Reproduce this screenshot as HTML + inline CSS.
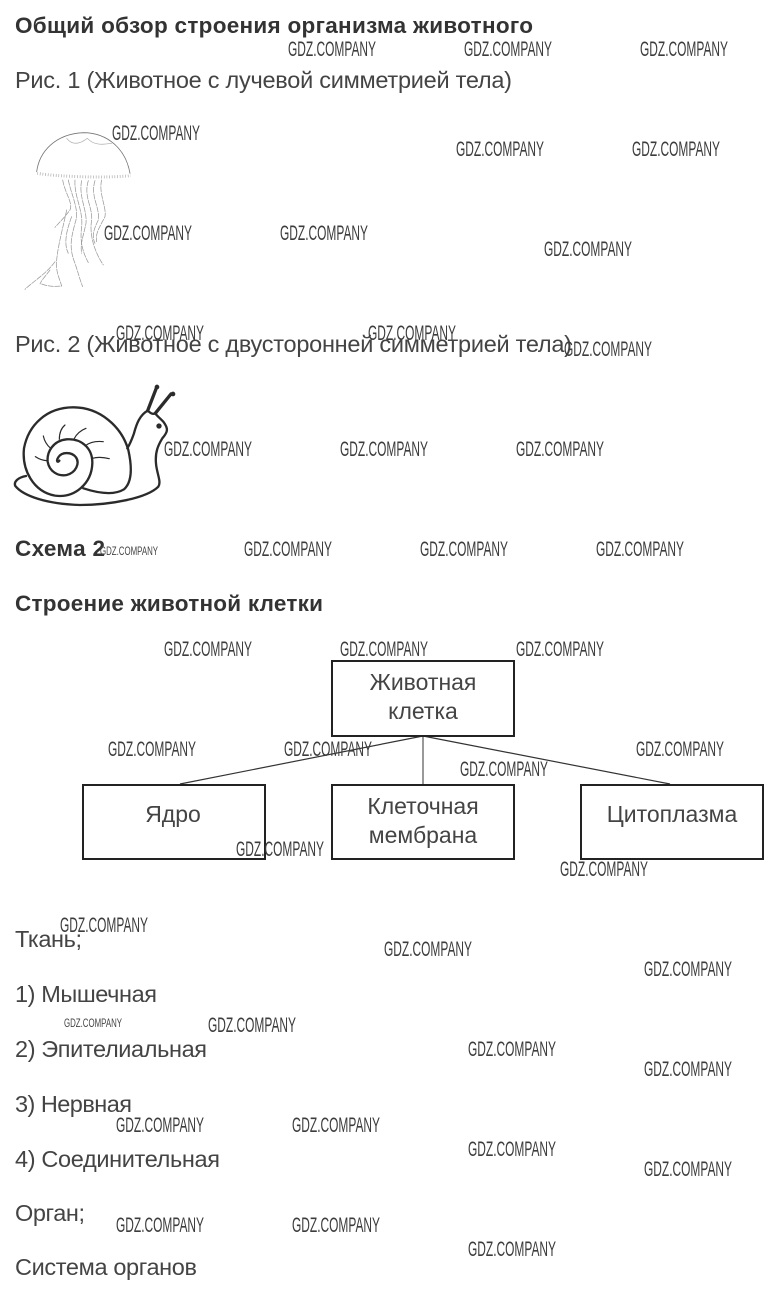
<!DOCTYPE html>
<html lang="ru">
<head>
<meta charset="utf-8">
<title>Общий обзор строения организма животного</title>
<style>
html,body{margin:0;padding:0;background:#fff;width:774px;height:1297px;overflow:hidden}
svg{display:block}
text{font-family:"Liberation Sans",sans-serif}
.t{font-size:23.5px;fill:#444}
.b{font-size:22.5px;font-weight:bold;fill:#333}
.c{font-size:23px;fill:#444;text-anchor:middle}
.w{font-size:21px;fill:#3c3c3c}
.s{font-size:12px;fill:#444}
.box{fill:#fff;stroke:#222;stroke-width:2}
</style>
</head>
<body>
<svg width="774" height="1297" viewBox="0 0 774 1297" xmlns="http://www.w3.org/2000/svg">
<rect width="774" height="1297" fill="#fff"/>

<text class="b" x="15" y="33" textLength="518">Общий обзор строения организма животного</text>
<text class="t" x="15" y="88" textLength="497">Рис. 1 (Животное с лучевой симметрией тела)</text>
<text class="t" x="15" y="352" textLength="557">Рис. 2 (Животное с двусторонней симметрией тела)</text>
<text class="b" x="15" y="556" textLength="90">Схема 2</text>
<text class="b" x="15" y="611" textLength="308">Строение животной клетки</text>

<!-- Jellyfish -->
<g transform="translate(0 110) scale(.3333)" fill="none" stroke-linecap="round">
<path d="M110 185C118 125 165 72 250 68C325 68 378 120 390 190" stroke="#777" stroke-width="2.5"/>
<path d="M200 85C215 105 235 105 262 85C280 105 305 105 335 100" stroke="#aaa" stroke-width="2"/>
<path d="M112 190C170 200 320 205 392 197" stroke="#aaa" stroke-width="9" stroke-linecap="butt" stroke-dasharray="2 6"/>
<g stroke="#999" stroke-width="2.2" stroke-dasharray="16 4">
<path d="M188 210C195 250 220 280 210 300C195 320 185 330 165 352"/>
<path d="M205 210C215 260 240 300 225 340C215 380 205 410 225 460C235 490 240 510 248 530"/>
<path d="M225 210C222 260 250 300 245 350C240 390 245 420 265 458"/>
<path d="M245 212C235 260 262 300 258 340C250 380 240 400 245 430"/>
<path d="M265 212C250 260 278 290 275 330C268 370 280 420 310 465"/>
<path d="M285 212C270 260 300 290 295 330C280 360 275 380 285 400"/>
<path d="M305 210C295 250 320 290 315 320C300 350 285 370 290 395"/>
<path d="M200 300C190 350 175 400 170 450C165 480 180 510 185 528"/>
<path d="M215 320C200 360 190 400 205 430"/>
<path d="M165 455C140 490 105 510 75 538M125 522C145 530 165 530 185 528M150 480C135 500 125 510 120 522"/>
</g>
</g>

<!-- Snail -->
<g transform="translate(0 370) scale(.3333)" fill="none" stroke="#2b2b2b" stroke-width="7" stroke-linecap="round" stroke-linejoin="round">
<path d="M250 355C290 368 340 378 372 358C398 335 395 285 385 240C365 170 300 112 220 112C140 112 85 165 72 235C65 300 100 365 165 377C225 385 275 340 277 280C278 235 245 205 200 208C160 212 140 245 143 275C148 305 175 320 200 315C228 308 240 280 228 262C215 245 185 245 175 262C168 272 172 280 178 272"/>
<path d="M78 318C55 322 40 335 46 348C70 378 140 402 240 405C330 405 440 385 475 350C485 335 470 310 468 280C465 245 475 225 487 205C505 185 505 175 490 155C475 140 468 135 466 130L513 72M466 130C455 135 448 125 443 122L470 52M443 122C420 135 410 160 402 190C395 210 388 225 382 235"/>
<path d="M178 208C178 190 183 175 195 165M222 207C228 195 240 182 258 175M255 228C270 216 290 213 310 215M277 265C295 260 312 262 328 266M152 235C140 225 133 212 130 198M142 272C130 272 118 268 106 260" stroke-width="3.5"/>
<path d="M466 130L513 72M443 122L470 52" stroke-width="10"/>
<circle cx="477" cy="168" r="8" fill="#2b2b2b" stroke="none"/>
<circle cx="471" cy="51" r="7" fill="#2b2b2b" stroke="none"/>
<circle cx="519" cy="72" r="7" fill="#2b2b2b" stroke="none"/>
</g>

<!-- Diagram -->
<g stroke="#333" fill="none">
<line x1="423" y1="736" x2="180" y2="784" stroke-width="1.2"/>
<line x1="423" y1="736" x2="423" y2="785" stroke-width="1"/>
<line x1="423" y1="736" x2="670" y2="784" stroke-width="1.2"/>
</g>
<rect class="box" x="332" y="661" width="182" height="75"/>
<rect class="box" x="83" y="785" width="182" height="74"/>
<rect class="box" x="332" y="785" width="182" height="74"/>
<rect class="box" x="581" y="785" width="182" height="74"/>
<text class="c" x="423" y="690">Животная</text>
<text class="c" x="423" y="719">клетка</text>
<text class="c" x="173" y="822">Ядро</text>
<text class="c" x="423" y="814">Клеточная</text>
<text class="c" x="423" y="843">мембрана</text>
<text class="c" x="672" y="822">Цитоплазма</text>

<!-- List -->
<text class="t" x="15" y="947" textLength="67">Ткань;</text>
<text class="t" x="15" y="1002" textLength="142">1) Мышечная</text>
<text class="t" x="15" y="1057" textLength="192">2) Эпителиальная</text>
<text class="t" x="15" y="1112" textLength="117">3) Нервная</text>
<text class="t" x="15" y="1167" textLength="205">4) Соединительная</text>
<text class="t" x="15" y="1221" textLength="70">Орган;</text>
<text class="t" x="15" y="1275" textLength="182">Система органов</text>

<!-- Watermarks -->
<g>
<text class="w" x="288" y="56" textLength="88" lengthAdjust="spacingAndGlyphs">GDZ.COMPANY</text>
<text class="w" x="464" y="56" textLength="88" lengthAdjust="spacingAndGlyphs">GDZ.COMPANY</text>
<text class="w" x="640" y="56" textLength="88" lengthAdjust="spacingAndGlyphs">GDZ.COMPANY</text>
<text class="w" x="112" y="140" textLength="88" lengthAdjust="spacingAndGlyphs">GDZ.COMPANY</text>
<text class="w" x="456" y="156" textLength="88" lengthAdjust="spacingAndGlyphs">GDZ.COMPANY</text>
<text class="w" x="632" y="156" textLength="88" lengthAdjust="spacingAndGlyphs">GDZ.COMPANY</text>
<text class="w" x="104" y="240" textLength="88" lengthAdjust="spacingAndGlyphs">GDZ.COMPANY</text>
<text class="w" x="280" y="240" textLength="88" lengthAdjust="spacingAndGlyphs">GDZ.COMPANY</text>
<text class="w" x="544" y="256" textLength="88" lengthAdjust="spacingAndGlyphs">GDZ.COMPANY</text>
<text class="w" x="116" y="340" textLength="88" lengthAdjust="spacingAndGlyphs">GDZ.COMPANY</text>
<text class="w" x="368" y="340" textLength="88" lengthAdjust="spacingAndGlyphs">GDZ.COMPANY</text>
<text class="w" x="564" y="356" textLength="88" lengthAdjust="spacingAndGlyphs">GDZ.COMPANY</text>
<text class="w" x="164" y="456" textLength="88" lengthAdjust="spacingAndGlyphs">GDZ.COMPANY</text>
<text class="w" x="340" y="456" textLength="88" lengthAdjust="spacingAndGlyphs">GDZ.COMPANY</text>
<text class="w" x="516" y="456" textLength="88" lengthAdjust="spacingAndGlyphs">GDZ.COMPANY</text>
<text class="s" x="100" y="555" textLength="58" lengthAdjust="spacingAndGlyphs">GDZ.COMPANY</text>
<text class="w" x="244" y="556" textLength="88" lengthAdjust="spacingAndGlyphs">GDZ.COMPANY</text>
<text class="w" x="420" y="556" textLength="88" lengthAdjust="spacingAndGlyphs">GDZ.COMPANY</text>
<text class="w" x="596" y="556" textLength="88" lengthAdjust="spacingAndGlyphs">GDZ.COMPANY</text>
<text class="w" x="164" y="656" textLength="88" lengthAdjust="spacingAndGlyphs">GDZ.COMPANY</text>
<text class="w" x="340" y="656" textLength="88" lengthAdjust="spacingAndGlyphs">GDZ.COMPANY</text>
<text class="w" x="516" y="656" textLength="88" lengthAdjust="spacingAndGlyphs">GDZ.COMPANY</text>
<text class="w" x="108" y="756" textLength="88" lengthAdjust="spacingAndGlyphs">GDZ.COMPANY</text>
<text class="w" x="284" y="756" textLength="88" lengthAdjust="spacingAndGlyphs">GDZ.COMPANY</text>
<text class="w" x="636" y="756" textLength="88" lengthAdjust="spacingAndGlyphs">GDZ.COMPANY</text>
<text class="w" x="460" y="776" textLength="88" lengthAdjust="spacingAndGlyphs">GDZ.COMPANY</text>
<text class="w" x="236" y="856" textLength="88" lengthAdjust="spacingAndGlyphs">GDZ.COMPANY</text>
<text class="w" x="560" y="876" textLength="88" lengthAdjust="spacingAndGlyphs">GDZ.COMPANY</text>
<text class="w" x="60" y="932" textLength="88" lengthAdjust="spacingAndGlyphs">GDZ.COMPANY</text>
<text class="w" x="384" y="956" textLength="88" lengthAdjust="spacingAndGlyphs">GDZ.COMPANY</text>
<text class="w" x="644" y="976" textLength="88" lengthAdjust="spacingAndGlyphs">GDZ.COMPANY</text>
<text class="s" x="64" y="1027" textLength="58" lengthAdjust="spacingAndGlyphs">GDZ.COMPANY</text>
<text class="w" x="208" y="1032" textLength="88" lengthAdjust="spacingAndGlyphs">GDZ.COMPANY</text>
<text class="w" x="468" y="1056" textLength="88" lengthAdjust="spacingAndGlyphs">GDZ.COMPANY</text>
<text class="w" x="644" y="1076" textLength="88" lengthAdjust="spacingAndGlyphs">GDZ.COMPANY</text>
<text class="w" x="116" y="1132" textLength="88" lengthAdjust="spacingAndGlyphs">GDZ.COMPANY</text>
<text class="w" x="292" y="1132" textLength="88" lengthAdjust="spacingAndGlyphs">GDZ.COMPANY</text>
<text class="w" x="468" y="1156" textLength="88" lengthAdjust="spacingAndGlyphs">GDZ.COMPANY</text>
<text class="w" x="644" y="1176" textLength="88" lengthAdjust="spacingAndGlyphs">GDZ.COMPANY</text>
<text class="w" x="116" y="1232" textLength="88" lengthAdjust="spacingAndGlyphs">GDZ.COMPANY</text>
<text class="w" x="292" y="1232" textLength="88" lengthAdjust="spacingAndGlyphs">GDZ.COMPANY</text>
<text class="w" x="468" y="1256" textLength="88" lengthAdjust="spacingAndGlyphs">GDZ.COMPANY</text>
</g>
</svg>
</body>
</html>
